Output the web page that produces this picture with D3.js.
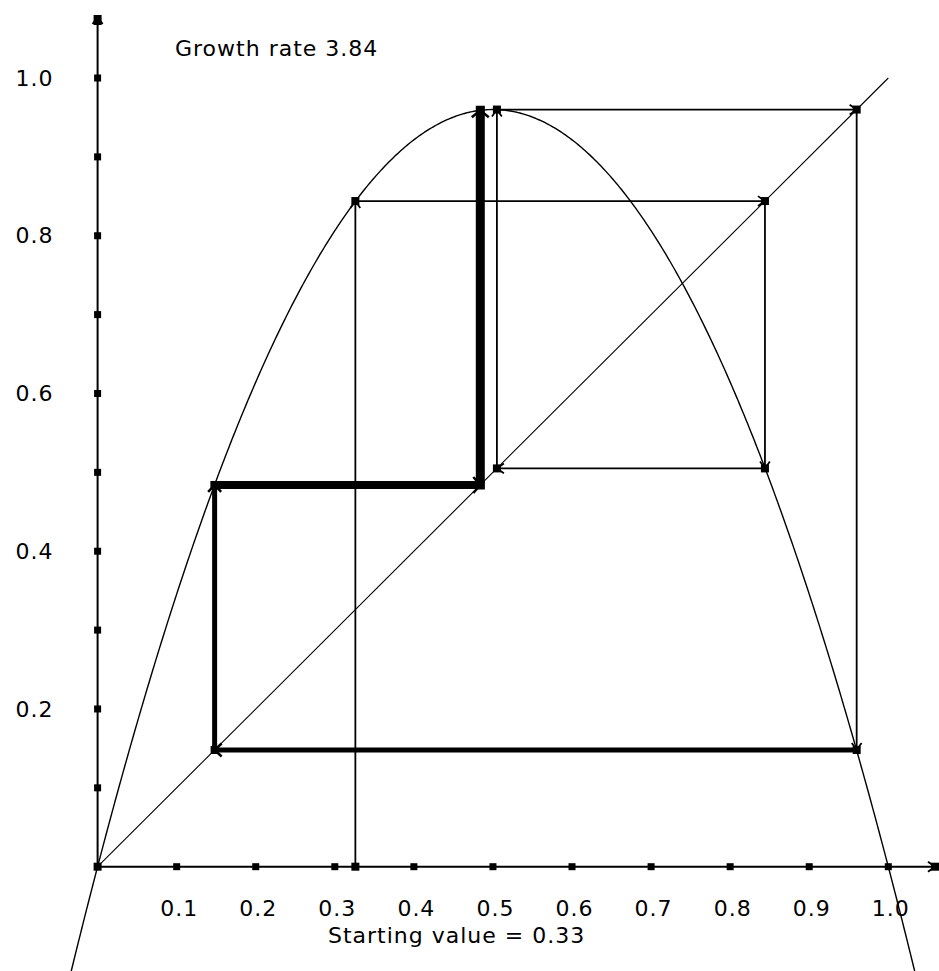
<!DOCTYPE html>
<html>
<head>
<meta charset="utf-8">
<script src="https://cdn.jsdelivr.net/npm/d3@7"></script>
<style>
  html, body { margin: 0; padding: 0; background: #fff; }
  svg { display: block; }
  text { font-family: "DejaVu Sans", sans-serif; fill: #000; }
</style>
</head>
<body>
<svg id="chart" width="939" height="971"></svg>
<script>
// ---- data ----
const growthRate = 3.84;
const startLabel = "0.33";
const iterates = [0.326, 0.844, 0.505, 0.960, 0.148, 0.484, 0.959];
const xTickValues = [0.1, 0.2, 0.3, 0.4, 0.5, 0.6, 0.7, 0.8, 0.9, 1.0];
const xTickLabels = ["0.1", "0.2", "0.3", "0.4", "0.5", "0.6", "0.7", "0.8", "0.9", "1.0"];
const yTickValues = [0.2, 0.4, 0.6, 0.8, 1.0];
const yTickLabels = ["0.2", "0.4", "0.6", "0.8", "1.0"];
const dotValues = [0.1, 0.2, 0.3, 0.4, 0.5, 0.6, 0.7, 0.8, 0.9, 1.0];

// ---- layout ----
const svg = d3.select("#chart");
const x = d3.scaleLinear().domain([0, 1]).range([97.6, 888.3]);
const y = d3.scaleLinear().domain([0, 1]).range([866.7, 78]);
const xAxisEnd = 935, yAxisTop = 17;

// arrowhead helper
function arrowHead(g, x1, y1, x2, y2, w) {
  const len = Math.hypot(x2 - x1, y2 - y1);
  const dx = (x2 - x1) / len, dy = (y2 - y1) / len;
  const nx = -dy, ny = dx;
  const L = 7, W = 4 + w / 2;
  const bx = x2 - dx * L, by = y2 - dy * L;
  g.append("path")
    .attr("d", `M${bx + nx * W},${by + ny * W} L${x2},${y2} L${bx - nx * W},${by - ny * W}`)
    .attr("fill", "none").attr("stroke", "#000").attr("stroke-width", Math.min(w, 2.5));
}

// ---- axes ----
const axes = svg.append("g");
axes.append("line").attr("x1", x(0)).attr("y1", y(0)).attr("x2", xAxisEnd).attr("y2", y(0))
  .attr("stroke", "#000").attr("stroke-width", 2);
axes.append("line").attr("x1", x(0)).attr("y1", y(0)).attr("x2", x(0)).attr("y2", yAxisTop)
  .attr("stroke", "#000").attr("stroke-width", 2);
arrowHead(axes, x(0), y(0), xAxisEnd, y(0), 2);
arrowHead(axes, x(0), y(0), x(0), yAxisTop, 2);
axes.append("rect").attr("x", xAxisEnd - 4).attr("y", y(0) - 4).attr("width", 8).attr("height", 8);
axes.append("rect").attr("x", x(0) - 4).attr("y", yAxisTop - 2).attr("width", 8).attr("height", 10);

// tick dots
axes.selectAll("rect.xdot").data(dotValues).enter().append("rect").attr("class", "xdot")
  .attr("x", d => x(d) - 3.5).attr("y", y(0) - 3.5).attr("width", 7).attr("height", 7);
axes.selectAll("rect.ydot").data(dotValues).enter().append("rect").attr("class", "ydot")
  .attr("x", x(0) - 3.5).attr("y", d => y(d) - 3.5).attr("width", 7).attr("height", 7);
axes.append("rect").attr("x", x(0) - 4).attr("y", y(0) - 4).attr("width", 8).attr("height", 8);

// tick labels via d3 axes
const xAxis = d3.axisBottom(x).tickValues(xTickValues)
  .tickFormat((d, i) => xTickLabels[i]).tickSize(0).tickPadding(34);
const gx = svg.append("g").attr("transform", `translate(2,${y(0)})`).call(xAxis);
gx.select(".domain").remove();
gx.selectAll("text").attr("font-size", 22).attr("font-family", "DejaVu Sans")
  .attr("letter-spacing", 1).attr("fill", "#000");

const yAxis = d3.axisLeft(y).tickValues(yTickValues)
  .tickFormat((d, i) => yTickLabels[i]).tickSize(0).tickPadding(44);
const gy = svg.append("g").attr("transform", `translate(${x(0)},0)`).call(yAxis);
gy.select(".domain").remove();
gy.selectAll("text").attr("font-size", 22).attr("font-family", "DejaVu Sans")
  .attr("letter-spacing", 1).attr("fill", "#000");

// ---- diagonal y = x ----
svg.append("line").attr("x1", x(0)).attr("y1", y(0)).attr("x2", x(1)).attr("y2", y(1))
  .attr("stroke", "#000").attr("stroke-width", 1.1);

// ---- parabola ----
const xs = d3.range(-0.036, 1.0361, 0.002);
const line = d3.line().x(d => x(d)).y(d => y(growthRate * d * (1 - d)));
svg.append("path").datum(xs).attr("d", line)
  .attr("fill", "none").attr("stroke", "#000").attr("stroke-width", 1.4);

// ---- cobweb ----
const pts = [[iterates[0], 0]];
for (let i = 0; i < iterates.length - 1; i++) {
  pts.push([iterates[i], iterates[i + 1]]);
  if (i < iterates.length - 2) pts.push([iterates[i + 1], iterates[i + 1]]);
}
const segWidths = [1.8, 1.8, 1.8, 1.8, 1.8, 1.8, 1.8, 5, 5, 8, 9];
const web = svg.append("g");
for (let i = 0; i < pts.length - 1; i++) {
  const a = pts[i], b = pts[i + 1];
  const w = segWidths[i];
  web.append("line")
    .attr("x1", x(a[0])).attr("y1", y(a[1])).attr("x2", x(b[0])).attr("y2", y(b[1]))
    .attr("stroke", "#000").attr("stroke-width", w)
    .attr("stroke-linecap", w > 3 ? "square" : "butt");
  arrowHead(web, x(a[0]), y(a[1]), x(b[0]), y(b[1]), w);
}
web.selectAll("rect.vx").data(pts).enter().append("rect").attr("class", "vx")
  .attr("x", d => x(d[0]) - 4).attr("y", d => y(d[1]) - 4).attr("width", 8).attr("height", 8);

// ---- texts ----
svg.append("text").attr("x", 175).attr("y", 56).attr("font-size", 22).attr("letter-spacing", 1)
  .text("Growth rate " + growthRate.toFixed(2));
svg.append("text").attr("x", 328).attr("y", 943).attr("font-size", 22).attr("letter-spacing", 1)
  .text("Starting value = " + startLabel);
</script>
</body>
</html>
